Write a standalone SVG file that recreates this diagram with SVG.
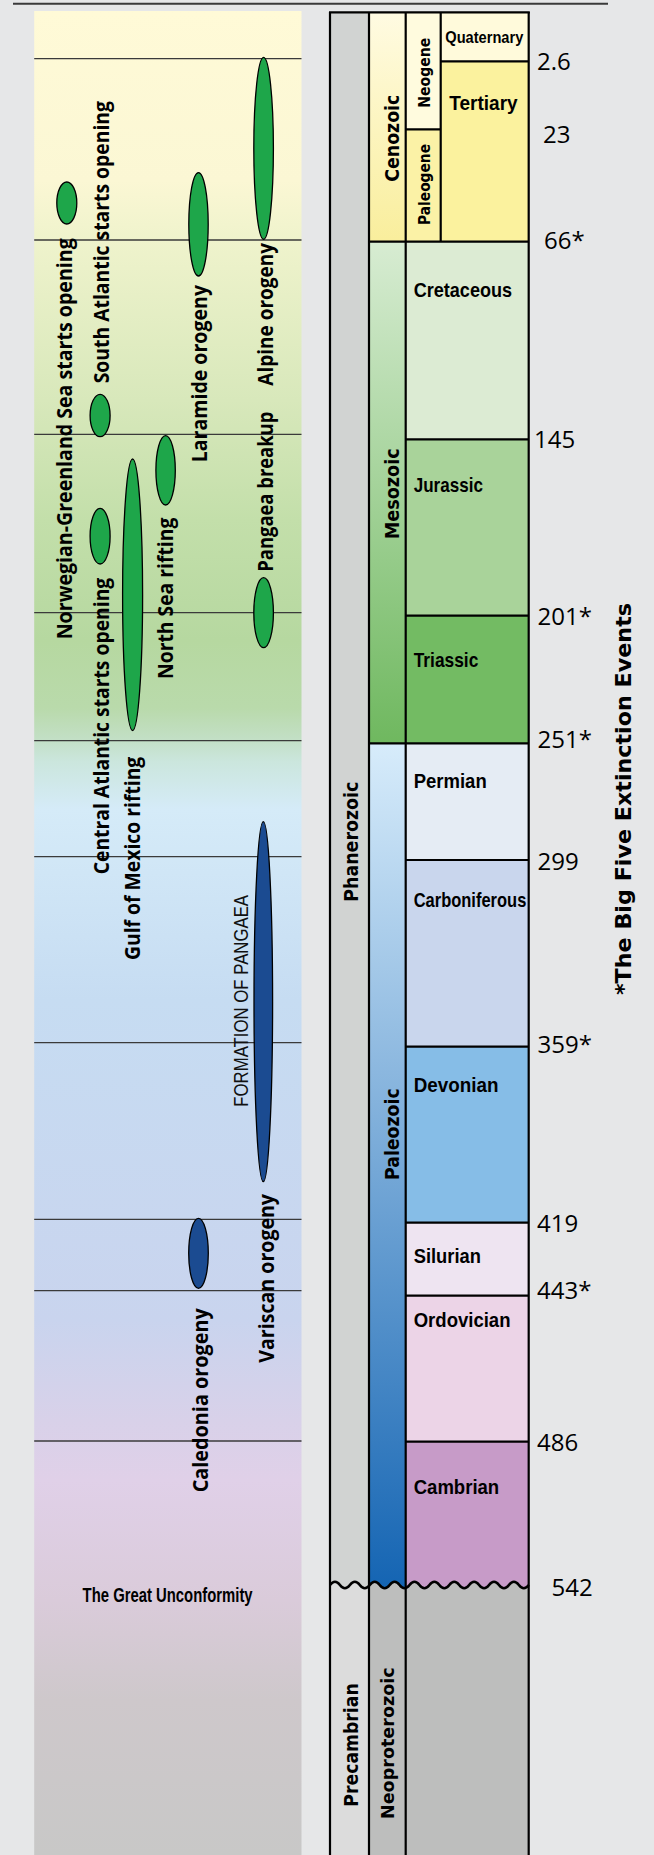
<svg xmlns="http://www.w3.org/2000/svg" width="654" height="1855" viewBox="0 0 654 1855">
<defs>
<style>
.tl{stroke:#3a3a3a;stroke-width:1.3}
.bd{stroke:#000;stroke-width:2.2;fill:none}
.ev{font-family:'Open Sans',Lato,sans-serif;font-weight:bold;font-size:21px;fill:#000}
.evr{font-family:'Liberation Sans Narrow','Liberation Sans',sans-serif;font-size:20px;fill:#111}
.era{font-family:'DejaVu Sans',sans-serif;font-weight:bold;font-size:20px;fill:#000}
.per{font-family:'Liberation Sans Narrow','Liberation Sans',sans-serif;font-weight:bold;font-size:21px;fill:#000}
.num{font-family:'Open Sans','Liberation Sans',sans-serif;font-size:24px;fill:#000}
.ge{fill:#1ea64a;stroke:#000;stroke-width:1.3}
.be{fill:#1b4b91;stroke:#000;stroke-width:1.3}
</style>
<linearGradient id="panelGrad" gradientUnits="userSpaceOnUse" x1="0" y1="11" x2="0" y2="1855">
<stop offset="0" stop-color="#fffad7"/>
<stop offset="0.092" stop-color="#fbf7d4"/>
<stop offset="0.124" stop-color="#eff3cc"/>
<stop offset="0.211" stop-color="#d8e8bb"/>
<stop offset="0.276" stop-color="#c3dfaa"/>
<stop offset="0.341" stop-color="#b6d8a0"/>
<stop offset="0.378" stop-color="#b9daab"/>
<stop offset="0.394" stop-color="#c2dfc4"/>
<stop offset="0.407" stop-color="#cbe6dd"/>
<stop offset="0.433" stop-color="#d5ebf8"/>
<stop offset="0.536" stop-color="#c6dcf2"/>
<stop offset="0.71" stop-color="#c9d4ee"/>
<stop offset="0.764" stop-color="#d8d1e9"/>
<stop offset="0.797" stop-color="#e0d0e8"/>
<stop offset="0.862" stop-color="#dacbda"/>
<stop offset="0.916" stop-color="#cec8cb"/>
<stop offset="1" stop-color="#c8c8c7"/>
</linearGradient>
<linearGradient id="cenoGrad" gradientUnits="userSpaceOnUse" x1="0" y1="12" x2="0" y2="242">
<stop offset="0" stop-color="#fffbe2"/><stop offset="1" stop-color="#f9ee9c"/>
</linearGradient>
<linearGradient id="mesoGrad" gradientUnits="userSpaceOnUse" x1="0" y1="242" x2="0" y2="743">
<stop offset="0" stop-color="#d7ecd2"/><stop offset="1" stop-color="#6fb85f"/>
</linearGradient>
<linearGradient id="paleoGrad" gradientUnits="userSpaceOnUse" x1="0" y1="743" x2="0" y2="1585">
<stop offset="0" stop-color="#d7ecfb"/><stop offset="1" stop-color="#1565b3"/>
</linearGradient>
<clipPath id="belowWave">
<path d="M330,1585 q4.97,-6.5 9.94,0 q4.97,6.5 9.94,0 q4.97,-6.5 9.94,0 q4.97,6.5 9.94,0 q4.97,-6.5 9.94,0 q4.97,6.5 9.94,0 q4.97,-6.5 9.94,0 q4.97,6.5 9.94,0 q4.97,-6.5 9.94,0 q4.97,6.5 9.94,0 q4.97,-6.5 9.94,0 q4.97,6.5 9.94,0 q4.97,-6.5 9.94,0 q4.97,6.5 9.94,0 q4.97,-6.5 9.94,0 q4.97,6.5 9.94,0 q4.97,-6.5 9.94,0 q4.97,6.5 9.94,0 q4.97,-6.5 9.94,0 q4.97,6.5 9.94,0 L532,1860 L328,1860 Z"/>
</clipPath>
</defs>

<rect x="0" y="0" width="654" height="1855" fill="#e6e7e8"/>
<line x1="13" y1="3.7" x2="608" y2="3.7" stroke="#3a3a3a" stroke-width="2"/>

<g id="left-panel">
<rect x="34.2" y="11" width="267.3" height="1844" fill="url(#panelGrad)"/>
</g>

<g id="connectors">
<line class="tl" x1="34.2" y1="58.7" x2="301.5" y2="58.7"/>
<line class="tl" x1="34.2" y1="240" x2="301.5" y2="240"/>
<line class="tl" x1="34.2" y1="434.3" x2="301.5" y2="434.3"/>
<line class="tl" x1="34.2" y1="612.7" x2="301.5" y2="612.7"/>
<line class="tl" x1="34.2" y1="740.7" x2="301.5" y2="740.7"/>
<line class="tl" x1="34.2" y1="856.7" x2="301.5" y2="856.7"/>
<line class="tl" x1="34.2" y1="1042.7" x2="301.5" y2="1042.7"/>
<line class="tl" x1="34.2" y1="1219.3" x2="301.5" y2="1219.3"/>
<line class="tl" x1="34.2" y1="1290.7" x2="301.5" y2="1290.7"/>
<line class="tl" x1="34.2" y1="1441" x2="301.5" y2="1441"/>
</g>

<g id="ev-norwegian">
<ellipse class="ge" cx="66.8" cy="203" rx="10" ry="21"/>
<text class="ev" transform="translate(72,639.3) rotate(-90)" textLength="401" lengthAdjust="spacingAndGlyphs">Norwegian-Greenland Sea starts opening</text>
</g>
<g id="ev-south-atlantic">
<ellipse class="ge" cx="100.1" cy="415.5" rx="10" ry="21.2"/>
<text class="ev" transform="translate(109.3,383.3) rotate(-90)" textLength="282.3" lengthAdjust="spacingAndGlyphs">South Atlantic starts opening</text>
</g>
<g id="ev-central-atlantic">
<ellipse class="ge" cx="100.1" cy="536.2" rx="10" ry="27.8"/>
<text class="ev" transform="translate(109.3,874.3) rotate(-90)" textLength="296.6" lengthAdjust="spacingAndGlyphs">Central Atlantic starts opening</text>
</g>
<g id="ev-gulf-mexico">
<ellipse class="ge" cx="132.6" cy="594.8" rx="10" ry="135.8"/>
<text class="ev" transform="translate(139.7,960) rotate(-90)" textLength="203.3" lengthAdjust="spacingAndGlyphs">Gulf of Mexico rifting</text>
</g>
<g id="ev-north-sea">
<ellipse class="ge" cx="165.6" cy="470.3" rx="9.7" ry="34.7"/>
<text class="ev" transform="translate(173,679) rotate(-90)" textLength="161.3" lengthAdjust="spacingAndGlyphs">North Sea rifting</text>
</g>
<g id="ev-laramide">
<ellipse class="ge" cx="198.5" cy="224.3" rx="9.7" ry="51.7"/>
<text class="ev" transform="translate(206.5,462.3) rotate(-90)" textLength="177.3" lengthAdjust="spacingAndGlyphs">Laramide orogeny</text>
</g>
<g id="ev-alpine">
<ellipse class="ge" cx="263.6" cy="148.3" rx="9.8" ry="91"/>
<text class="ev" transform="translate(273,385.7) rotate(-90)" textLength="142.7" lengthAdjust="spacingAndGlyphs">Alpine orogeny</text>
</g>
<g id="ev-pangaea-breakup">
<ellipse class="ge" cx="263.6" cy="612.7" rx="9.8" ry="35"/>
<text class="ev" transform="translate(272.5,571.7) rotate(-90)" textLength="160" lengthAdjust="spacingAndGlyphs">Pangaea breakup</text>
</g>
<g id="ev-variscan">
<ellipse class="be" cx="263.3" cy="1001.7" rx="9.3" ry="180"/>
<text class="evr" transform="translate(248,1106.7) rotate(-90)" textLength="211.7" lengthAdjust="spacingAndGlyphs">FORMATION OF PANGAEA</text>
<text class="ev" transform="translate(274,1362.7) rotate(-90)" textLength="168.7" lengthAdjust="spacingAndGlyphs">Variscan orogeny</text>
</g>
<g id="ev-caledonia">
<ellipse class="be" cx="198.5" cy="1253.3" rx="9.8" ry="35"/>
<text class="ev" transform="translate(207.5,1492.3) rotate(-90)" textLength="184" lengthAdjust="spacingAndGlyphs">Caledonia orogeny</text>
</g>
<g id="great-unconformity">
<text class="per" x="82.6" y="1601.7" textLength="170" lengthAdjust="spacingAndGlyphs">The Great Unconformity</text>
</g>

<g id="col-phanerozoic">
<rect x="330" y="12" width="39" height="1580" fill="#d1d3d2"/>
<text class="era" transform="translate(358,901.7) rotate(-90)" textLength="120" lengthAdjust="spacingAndGlyphs">Phanerozoic</text>
</g>
<g id="col-cenozoic">
<rect x="369" y="12" width="36.7" height="229.7" fill="url(#cenoGrad)"/>
<text class="era" transform="translate(398.5,181.7) rotate(-90)" textLength="87" lengthAdjust="spacingAndGlyphs">Cenozoic</text>
</g>
<g id="col-neogene">
<rect x="405.7" y="12" width="35" height="117.3" fill="#fffbde"/>
<text class="era" style="font-size:16.5px" transform="translate(430,107.7) rotate(-90)" textLength="70" lengthAdjust="spacingAndGlyphs">Neogene</text>
</g>
<g id="col-paleogene">
<rect x="405.7" y="129.3" width="35" height="112.4" fill="#fbf2a6"/>
<text class="era" style="font-size:16.5px" transform="translate(430,225) rotate(-90)" textLength="81" lengthAdjust="spacingAndGlyphs">Paleogene</text>
</g>
<g id="col-quaternary">
<rect x="440.7" y="12" width="88" height="49.3" fill="#fffadb"/>
<text class="per" style="font-size:17px" x="445.3" y="42.7" textLength="78" lengthAdjust="spacingAndGlyphs">Quaternary</text>
</g>
<g id="col-tertiary">
<rect x="440.7" y="61.3" width="88" height="180.4" fill="#fbf29e"/>
<text class="per" x="449.3" y="110" textLength="68.3" lengthAdjust="spacingAndGlyphs">Tertiary</text>
</g>
<g id="col-mesozoic">
<rect x="369" y="241.7" width="36.7" height="501.6" fill="url(#mesoGrad)"/>
<text class="era" transform="translate(398.5,539.3) rotate(-90)" textLength="91" lengthAdjust="spacingAndGlyphs">Mesozoic</text>
</g>
<g id="col-cretaceous">
<rect x="405.7" y="241.7" width="123" height="197.6" fill="#dcebd3"/>
<text class="per" x="413.7" y="296.7" textLength="98.4" lengthAdjust="spacingAndGlyphs">Cretaceous</text>
</g>
<g id="col-jurassic">
<rect x="405.7" y="439.3" width="123" height="176.4" fill="#a9d39a"/>
<text class="per" x="413.7" y="491.7" textLength="69.2" lengthAdjust="spacingAndGlyphs">Jurassic</text>
</g>
<g id="col-triassic">
<rect x="405.7" y="615.7" width="123" height="127.6" fill="#73bb63"/>
<text class="per" x="413.7" y="666.7" textLength="64.6" lengthAdjust="spacingAndGlyphs">Triassic</text>
</g>
<g id="col-paleozoic">
<rect x="369" y="743.3" width="36.7" height="848.7" fill="url(#paleoGrad)"/>
<text class="era" transform="translate(398.5,1180) rotate(-90)" textLength="91.7" lengthAdjust="spacingAndGlyphs">Paleozoic</text>
</g>
<g id="col-permian">
<rect x="405.7" y="743.3" width="123" height="116.7" fill="#e5ecf4"/>
<text class="per" x="413.7" y="788.3" textLength="73" lengthAdjust="spacingAndGlyphs">Permian</text>
</g>
<g id="col-carboniferous">
<rect x="405.7" y="860" width="123" height="186.7" fill="#c9d6ed"/>
<text class="per" x="413.7" y="906.7" textLength="112.6" lengthAdjust="spacingAndGlyphs">Carboniferous</text>
</g>
<g id="col-devonian">
<rect x="405.7" y="1046.7" width="123" height="176" fill="#86bde7"/>
<text class="per" x="413.7" y="1091.7" textLength="84.7" lengthAdjust="spacingAndGlyphs">Devonian</text>
</g>
<g id="col-silurian">
<rect x="405.7" y="1222.7" width="123" height="73" fill="#eee4f1"/>
<text class="per" x="413.7" y="1262.7" textLength="67.2" lengthAdjust="spacingAndGlyphs">Silurian</text>
</g>
<g id="col-ordovician">
<rect x="405.7" y="1295.7" width="123" height="146" fill="#ecd4e7"/>
<text class="per" x="413.7" y="1326.7" textLength="96.8" lengthAdjust="spacingAndGlyphs">Ordovician</text>
</g>
<g id="col-cambrian">
<rect x="405.7" y="1441.7" width="123" height="150.3" fill="#c79bc8"/>
<text class="per" x="413.7" y="1494" textLength="85.5" lengthAdjust="spacingAndGlyphs">Cambrian</text>
</g>
<g id="col-precambrian">
<g clip-path="url(#belowWave)">
<rect x="330" y="1575" width="39" height="280" fill="#dcdcdc"/>
<rect x="369" y="1575" width="160" height="280" fill="#bdbebd"/>
</g>
<text class="era" transform="translate(357.5,1806.7) rotate(-90)" textLength="123.4" lengthAdjust="spacingAndGlyphs">Precambrian</text>
</g>
<g id="col-neoproterozoic">
<text class="era" style="font-size:17px" transform="translate(394,1819) rotate(-90)" textLength="151.7" lengthAdjust="spacingAndGlyphs">Neoproterozoic</text>
</g>

<g id="column-borders">
<line class="bd" x1="329" y1="12.3" x2="529.8" y2="12.3"/>
<line class="bd" x1="330" y1="12" x2="330" y2="1855"/>
<line class="bd" x1="369" y1="12" x2="369" y2="1855"/>
<line class="bd" x1="405.7" y1="12" x2="405.7" y2="1855"/>
<line class="bd" x1="528.7" y1="12" x2="528.7" y2="1855"/>
<line class="bd" x1="440.7" y1="12" x2="440.7" y2="241.7"/>
<line class="bd" x1="440.7" y1="61.3" x2="528.7" y2="61.3"/>
<line class="bd" x1="405.7" y1="129.3" x2="440.7" y2="129.3"/>
<line class="bd" x1="369" y1="241.7" x2="528.7" y2="241.7"/>
<line class="bd" x1="405.7" y1="439.3" x2="528.7" y2="439.3"/>
<line class="bd" x1="405.7" y1="615.7" x2="528.7" y2="615.7"/>
<line class="bd" x1="369" y1="743.3" x2="528.7" y2="743.3"/>
<line class="bd" x1="405.7" y1="860" x2="528.7" y2="860"/>
<line class="bd" x1="405.7" y1="1046.7" x2="528.7" y2="1046.7"/>
<line class="bd" x1="405.7" y1="1222.7" x2="528.7" y2="1222.7"/>
<line class="bd" x1="405.7" y1="1295.7" x2="528.7" y2="1295.7"/>
<line class="bd" x1="405.7" y1="1441.7" x2="528.7" y2="1441.7"/>
<path class="bd" style="stroke-width:2.6" d="M330,1585 q4.97,-6.5 9.94,0 q4.97,6.5 9.94,0 q4.97,-6.5 9.94,0 q4.97,6.5 9.94,0 q4.97,-6.5 9.94,0 q4.97,6.5 9.94,0 q4.97,-6.5 9.94,0 q4.97,6.5 9.94,0 q4.97,-6.5 9.94,0 q4.97,6.5 9.94,0 q4.97,-6.5 9.94,0 q4.97,6.5 9.94,0 q4.97,-6.5 9.94,0 q4.97,6.5 9.94,0 q4.97,-6.5 9.94,0 q4.97,6.5 9.94,0 q4.97,-6.5 9.94,0 q4.97,6.5 9.94,0 q4.97,-6.5 9.94,0 q4.97,6.5 9.94,0"/>
</g>

<g id="ages">
<text class="num" x="537" y="70">2.6</text>
<text class="num" x="543" y="143.3">23</text>
<text class="num" x="544" y="249.3">66*</text>
<text class="num" x="534" y="448.3">145</text>
<text class="num" x="537.5" y="625">201*</text>
<text class="num" x="537.5" y="748.3">251*</text>
<text class="num" x="537.5" y="870">299</text>
<text class="num" x="537.5" y="1052.7">359*</text>
<text class="num" x="537" y="1231.7">419</text>
<text class="num" x="537" y="1299.3">443*</text>
<text class="num" x="537" y="1450.7">486</text>
<text class="num" x="551.5" y="1596">542</text>
</g>

<g id="big-five">
<text class="era" style="font-size:22px" transform="translate(631,995) rotate(-90)" textLength="392" lengthAdjust="spacingAndGlyphs">*The Big Five Extinction Events</text>
</g>
</svg>
